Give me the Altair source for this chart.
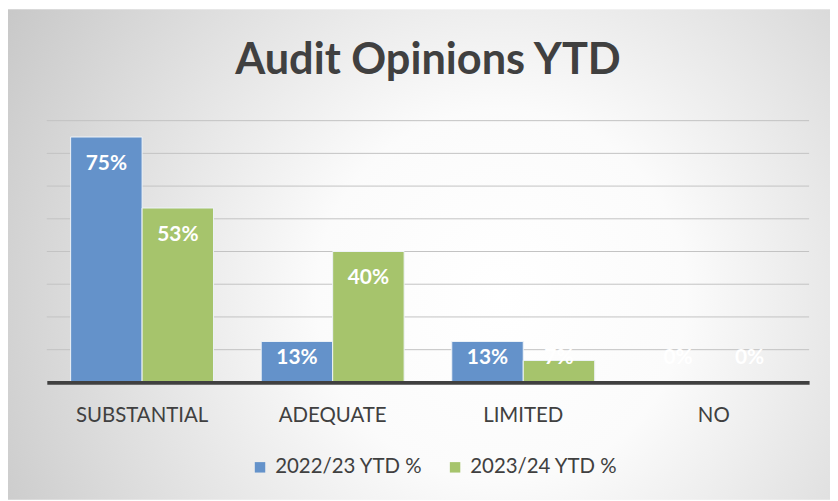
import altair as alt
import pandas as pd

categories = ["SUBSTANTIAL", "ADEQUATE", "LIMITED", "NO"]
series_names = ["2022/23 YTD %", "2023/24 YTD %"]
values_2223 = [0.75, 0.125, 0.125, 0.0]
values_2324 = [0.533, 0.40, 0.067, 0.0]
gridlines = [0.1, 0.2, 0.3, 0.4, 0.5, 0.6, 0.7, 0.8]

rows = []
for s, vals in zip(series_names, [values_2223, values_2324]):
    for c, v in zip(categories, vals):
        rows.append({"category": c, "series": s, "value": v})
df = pd.DataFrame(rows)

W, H = 766, 263
PL, PT, PR, PB = 39, 112, 21, 118
FONT = "Lato"
TXT = "#404040"

yscale = alt.Scale(domain=[0, 0.8], nice=False, zero=True)

bg = alt.Chart(alt.Data(values=[{"a": 1}])).mark_rect(
    fill=alt.RadialGradient(
        gradient="radial",
        x1=0.6, y1=0.55, r1=0.0,
        x2=0.6, y2=0.55, r2=0.75,
        stops=[
            alt.GradientStop(offset=0.0, color="#ffffff"),
            alt.GradientStop(offset=0.3, color="#fbfbfb"),
            alt.GradientStop(offset=1.0, color="#c2c2c2"),
        ],
    ),
).encode(
    x=alt.value(-PL), x2=alt.value(W + PR),
    y=alt.value(-PT), y2=alt.value(H + PB),
)

grid = alt.Chart(pd.DataFrame({"g": gridlines})).mark_rule(
    color="#c3c3c3", strokeWidth=1
).encode(y=alt.Y("g:Q", scale=yscale, axis=None))

xenc = alt.X(
    "category:N", sort=categories,
    scale=alt.Scale(paddingInner=0.25, paddingOuter=0.125),
    axis=alt.Axis(
        title=None, labelAngle=0, ticks=False, grid=False,
        domainColor=TXT, domainWidth=4,
        labelFont=FONT, labelFontSize=20.5, labelColor=TXT, labelPadding=23,
        zindex=1,
    ),
)
xoff = alt.XOffset("series:N", sort=series_names,
                   scale=alt.Scale(paddingInner=0, paddingOuter=0))

bars = alt.Chart(df).mark_bar(stroke="#eef3f8", strokeWidth=1).encode(
    x=xenc,
    xOffset=xoff,
    y=alt.Y("value:Q", scale=yscale, axis=None),
    color=alt.Color(
        "series:N",
        scale=alt.Scale(domain=series_names, range=["#6492CA", "#A6C46C"]),
        legend=alt.Legend(
            title=None, orient="none", legendX=204, legendY=338,
            direction="horizontal", symbolType="square", symbolSize=110,
            symbolStrokeWidth=0, labelFont=FONT, labelFontSize=20.5,
            labelColor=TXT, columnPadding=22, labelOffset=5,
        ),
    ),
)

text = alt.Chart(df).transform_calculate(
    label_pos="max(datum.value - 0.0823, 0.0732)"
).mark_text(
    color="white", font=FONT, fontWeight="bold", fontSize=21, baseline="middle"
).encode(
    x=alt.X("category:N", sort=categories),
    xOffset=alt.XOffset("series:N", sort=series_names),
    y=alt.Y("label_pos:Q", scale=yscale, axis=None),
    text=alt.Text("value:Q", format=".0%"),
)

chart = alt.layer(bg, grid, bars, text).properties(
    width=W, height=H,
    padding={"left": PL, "top": PT, "right": PR, "bottom": PB},
    autosize=alt.AutoSizeParams(type="none"),
    title=alt.Title(
        "Audit Opinions YTD", font=FONT, fontSize=43.5, fontWeight="bold",
        color=TXT, anchor="middle", frame="group", offset=-75,
    ),
).configure_view(stroke=None)

chart.save("out.html", embed_options={"renderer": "svg", "actions": False})
